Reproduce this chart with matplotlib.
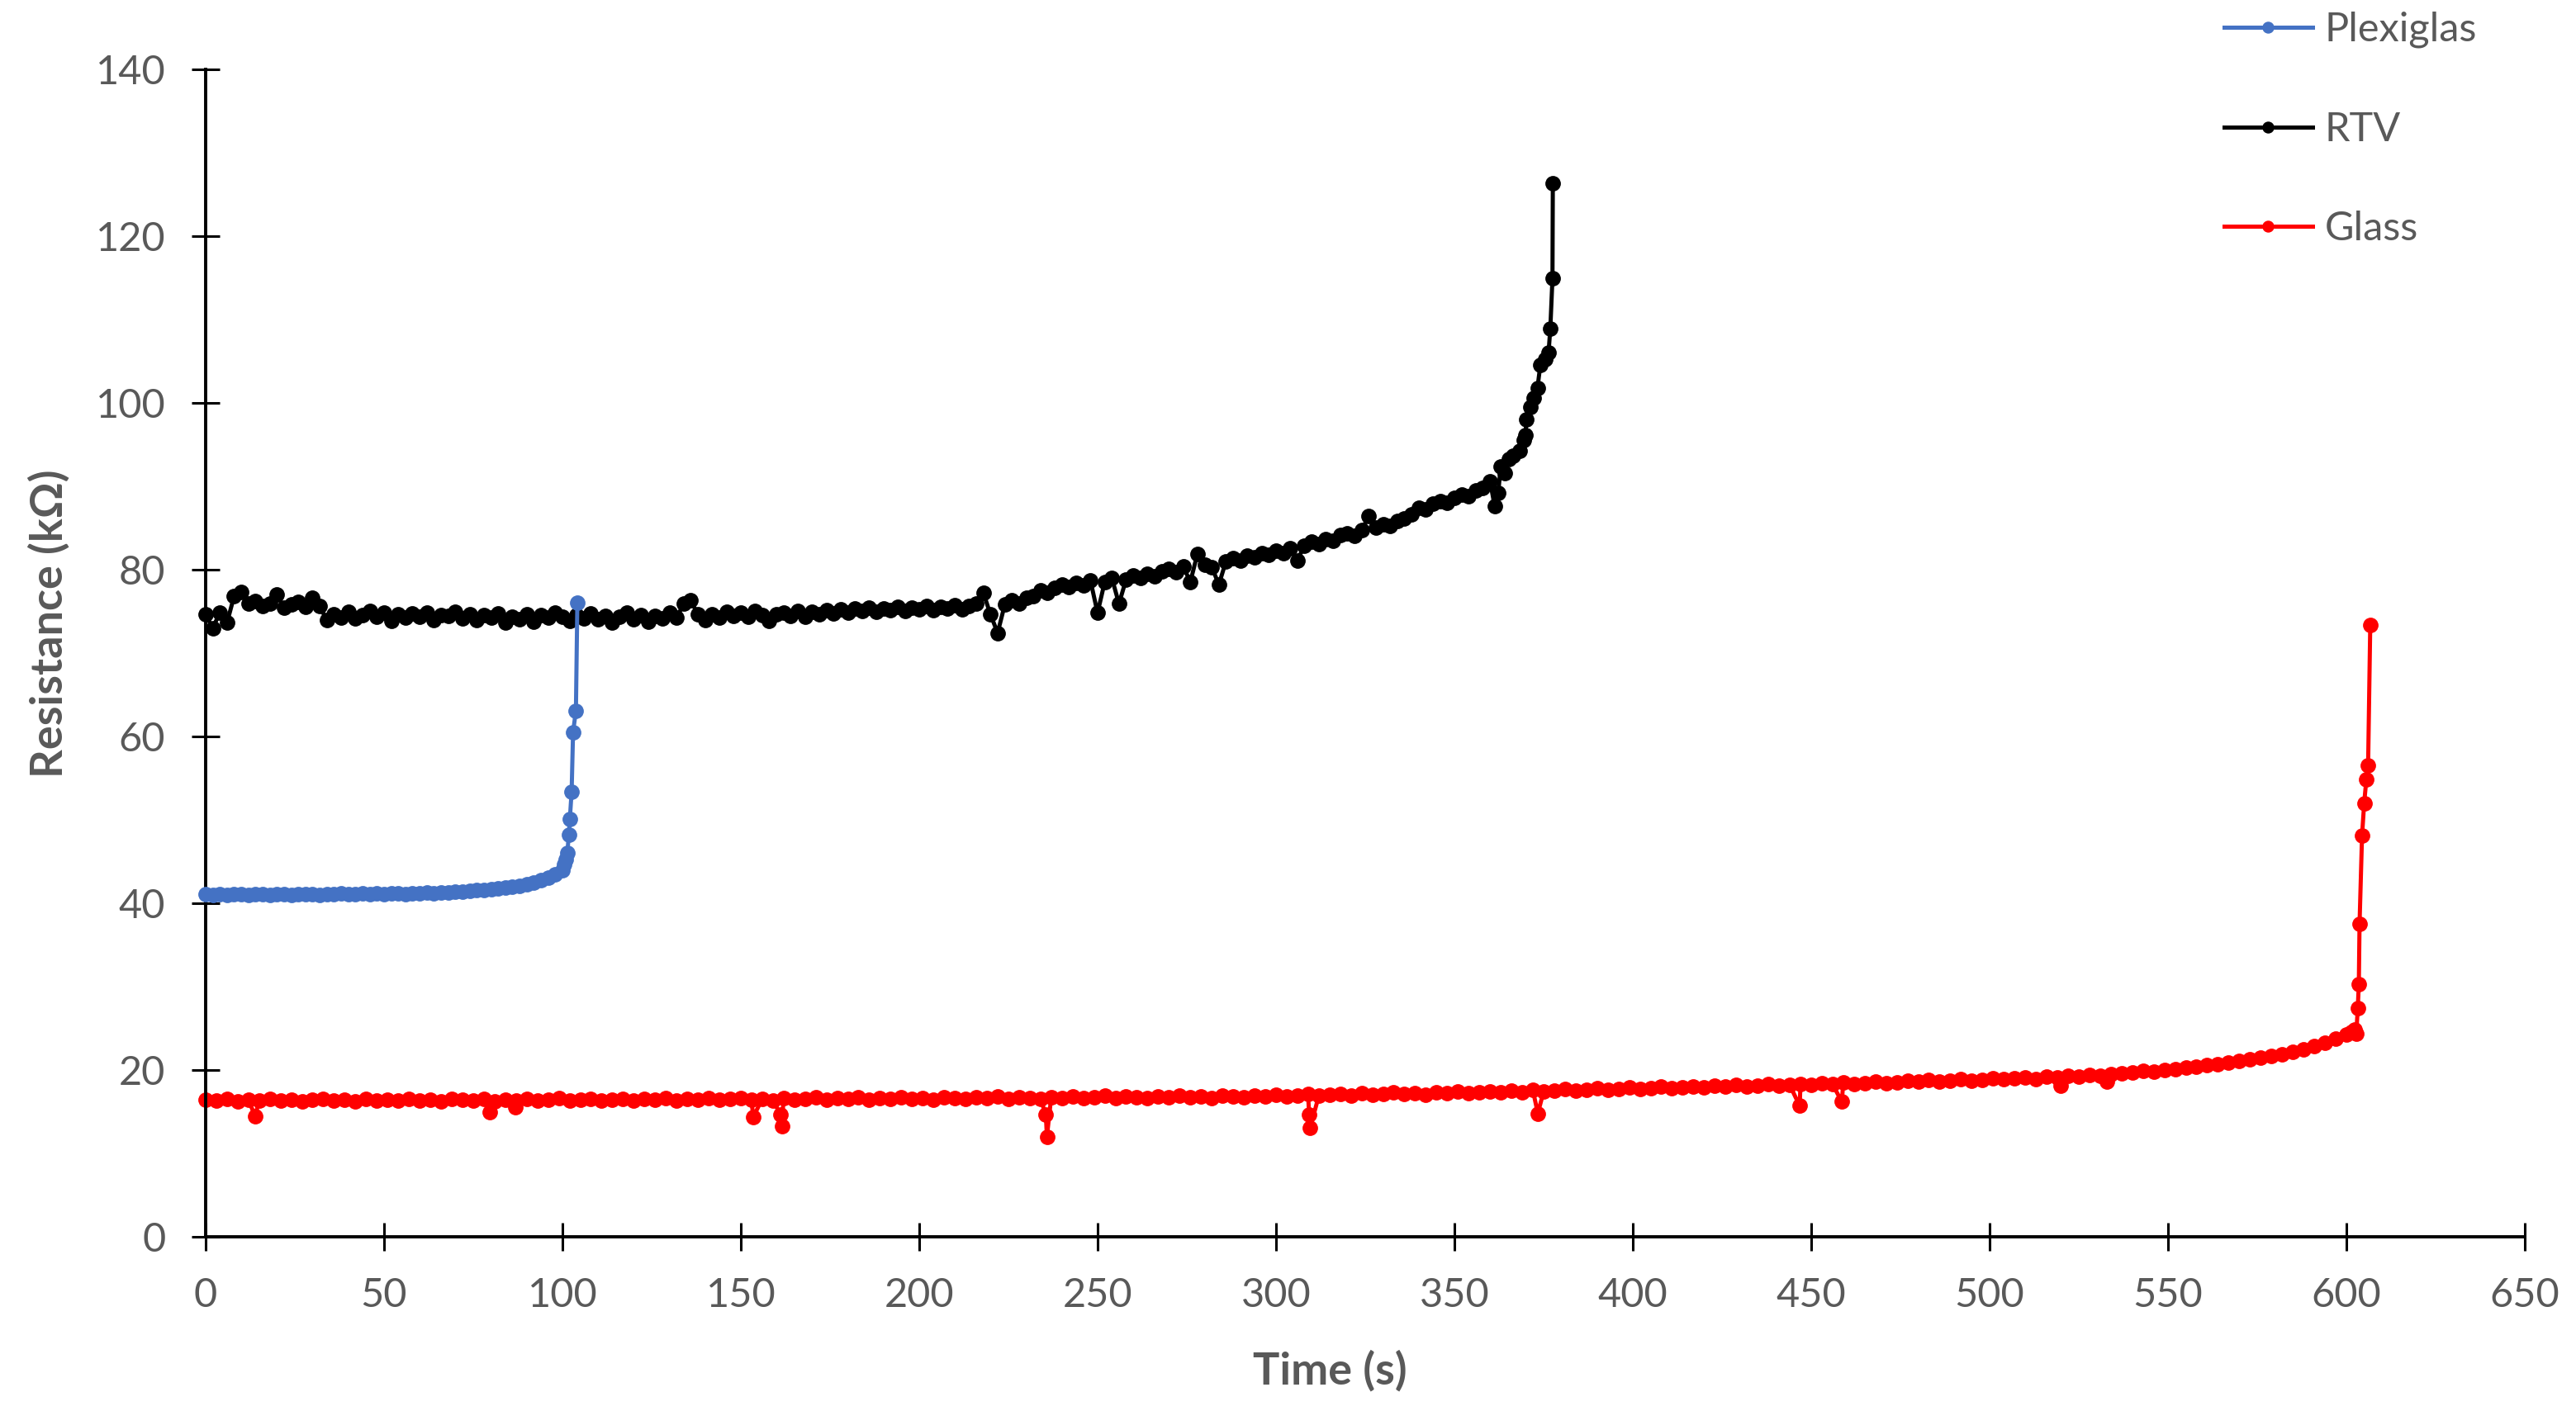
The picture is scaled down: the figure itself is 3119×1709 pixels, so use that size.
import matplotlib
matplotlib.use("Agg")
import matplotlib.pyplot as plt
import numpy as np

plt.rcParams['font.family'] = ['Lato', 'DejaVu Sans']

GREY = '#595959'

# Plexiglas, sampled every 2 s, then the fast rise at the end
plexi_t = np.arange(0, 102, 2)
plexi_r = [41.1, 41.0, 41.1, 41.0, 41.1, 41.1, 41.0, 41.1, 41.1, 41.0,
           41.1, 41.1, 41.0, 41.1, 41.1, 41.1, 41.0, 41.1, 41.1, 41.2,
           41.1, 41.1, 41.2, 41.1, 41.2, 41.1, 41.2, 41.2, 41.1, 41.2,
           41.2, 41.3, 41.2, 41.3, 41.3, 41.4, 41.4, 41.5, 41.6, 41.6,
           41.7, 41.8, 41.9, 42.0, 42.1, 42.3, 42.5, 42.8, 43.1, 43.5,
           44.0]
plexi_tail_t = [100.6, 101.0, 101.4, 101.8, 102.1, 102.6, 103.0, 103.8, 104.2]
plexi_tail_r = [44.6, 45.2, 46.0, 48.2, 50.1, 53.4, 60.5, 63.1, 76.0]

# RTV, sampled every 2 s
rtv_t = np.arange(0, 362, 2)
rtv_r = [74.6, 73.0, 74.8, 73.6, 76.8, 77.3, 75.9, 76.2, 75.6, 75.9,
         77.0, 75.4, 75.8, 76.1, 75.5, 76.6, 75.6, 73.9, 74.6, 74.2,
         74.9, 74.1, 74.5, 75.0, 74.3, 74.8, 73.8, 74.6, 74.2, 74.7,
         74.3, 74.8, 73.9, 74.5, 74.4, 74.9, 74.1, 74.6, 73.9, 74.5,
         74.2, 74.7, 73.6, 74.3, 74.0, 74.6, 73.7, 74.5, 74.2, 74.8,
         74.3, 73.8, 74.5, 74.1, 74.7, 74.0, 74.4, 73.6, 74.3, 74.8,
         74.0, 74.5, 73.7, 74.4, 74.1, 74.8, 74.2, 75.9, 76.3, 74.6,
         73.9, 74.6, 74.2, 74.9, 74.4, 74.8, 74.3, 75.0, 74.5, 73.8,
         74.6, 74.8, 74.4, 75.0, 74.3, 74.9, 74.6, 75.1, 74.7, 75.2,
         74.8, 75.3, 75.0, 75.4, 74.9, 75.3, 75.1, 75.5, 75.0, 75.4,
         75.2, 75.6, 75.1, 75.5, 75.3, 75.7, 75.2, 75.6, 75.9, 77.2,
         74.6, 72.4, 75.8, 76.3, 75.9, 76.6, 76.8, 77.5, 77.2, 77.8,
         78.2, 77.9, 78.4, 78.1, 78.7, 74.8, 78.5, 79.0, 75.9, 78.8,
         79.3, 79.0, 79.5, 79.2, 79.8, 80.1, 79.7, 80.4, 78.5, 81.9,
         80.6, 80.3, 78.2, 81.0, 81.4, 81.1, 81.7, 81.5, 82.0, 81.8,
         82.3, 82.0, 82.6, 81.1, 82.9, 83.3, 83.0, 83.6, 83.4, 84.1,
         84.3, 84.0, 84.7, 86.4, 85.0, 85.4, 85.2, 85.8, 86.1, 86.6,
         87.4, 87.2, 87.9, 88.2, 88.0, 88.6, 89.0, 88.8, 89.5, 89.8,
         90.6]
rtv_tail_t = [361.3, 362.3, 363.0, 364.2, 365.3, 366.5, 368.3, 369.4, 369.9, 370.2,
              371.3, 372.3, 373.3, 374.1, 375.5, 376.4, 376.9, 377.5, 377.6]
rtv_tail_r = [87.6, 89.2, 92.4, 91.6, 93.2, 93.6, 94.2, 95.5, 96.1, 98.0,
              99.5, 100.6, 101.8, 104.5, 105.2, 106.0, 108.9, 114.9, 126.3]

# Glass, sampled every 3 s, plus the short drop-outs and the final rise
glass_t = np.arange(0, 603, 3)
glass_r = [16.4, 16.3, 16.5, 16.2, 16.4, 16.3, 16.5, 16.3, 16.4, 16.2,
           16.4, 16.5, 16.3, 16.4, 16.2, 16.5, 16.3, 16.4, 16.3, 16.5,
           16.3, 16.4, 16.2, 16.5, 16.4, 16.3, 16.5, 16.2, 16.4, 16.3,
           16.5, 16.3, 16.4, 16.6, 16.3, 16.4, 16.5, 16.3, 16.4, 16.5,
           16.3, 16.5, 16.4, 16.6, 16.3, 16.5, 16.4, 16.6, 16.4, 16.5,
           16.6, 16.4, 16.5, 16.3, 16.6, 16.4, 16.5, 16.7, 16.4, 16.6,
           16.5, 16.7, 16.4, 16.6, 16.5, 16.7, 16.5, 16.6, 16.4, 16.7,
           16.6, 16.5, 16.7, 16.6, 16.8, 16.5, 16.7, 16.6, 16.5, 16.7,
           16.6, 16.8, 16.6, 16.7, 16.9, 16.6, 16.8, 16.7, 16.6, 16.8,
           16.7, 16.9, 16.7, 16.8, 16.6, 16.9, 16.8, 16.7, 16.9, 16.8,
           17.0, 16.8, 16.9, 17.1, 16.9, 17.0, 17.1, 16.9, 17.2, 17.0,
           17.1, 17.3, 17.1, 17.2, 17.0, 17.3, 17.2, 17.4, 17.2, 17.3,
           17.4, 17.3, 17.5, 17.3, 17.6, 17.4, 17.5, 17.7, 17.5, 17.6,
           17.8, 17.6, 17.7, 17.9, 17.7, 17.8, 18.0, 17.8, 17.9, 18.0,
           17.9, 18.1, 18.0, 18.2, 18.0, 18.1, 18.3, 18.1, 18.2, 18.3,
           18.2, 18.4, 18.3, 18.5, 18.3, 18.4, 18.6, 18.4, 18.5, 18.7,
           18.6, 18.8, 18.6, 18.7, 18.9, 18.7, 18.8, 19.0, 18.9, 19.0,
           19.1, 18.9, 19.2, 19.1, 19.3, 19.2, 19.4, 19.3, 19.5, 19.6,
           19.7, 19.9, 19.8, 20.0, 20.1, 20.3, 20.4, 20.6, 20.7, 20.9,
           21.1, 21.3, 21.5, 21.7, 21.9, 22.2, 22.5, 22.9, 23.3, 23.8,
           24.3]
glass_dip_t = [13.9, 79.6, 86.8, 153.5, 161.2, 161.5, 235.5, 235.8, 309.3, 309.6,
               373.4, 446.8, 458.6, 519.9, 533.0]
glass_dip_r = [14.5, 15.0, 15.5, 14.4, 14.7, 13.3, 14.7, 12.0, 14.7, 13.1,
               14.8, 15.7, 16.2, 18.1, 18.6]
glass_tail_t = [601.5, 602.3, 602.8, 603.2, 603.5, 603.7, 604.4, 605.0, 605.6, 606.1, 606.7]
glass_tail_r = [24.6, 24.9, 24.4, 27.4, 30.3, 37.5, 48.1, 52.0, 54.8, 56.5, 73.3]

x_ticks = [0, 50, 100, 150, 200, 250, 300, 350, 400, 450, 500, 550, 600, 650]
y_ticks = [0, 20, 40, 60, 80, 100, 120, 140]


def join(*parts):
    t = np.concatenate([np.asarray(p[0], dtype=float) for p in parts])
    r = np.concatenate([np.asarray(p[1], dtype=float) for p in parts])
    order = np.argsort(t, kind='stable')
    return t[order], r[order]


pt, pr = join((plexi_t, plexi_r), (plexi_tail_t, plexi_tail_r))
rt, rr = join((rtv_t, rtv_r), (rtv_tail_t, rtv_tail_r))
gt, gr = join((glass_t, glass_r), (glass_dip_t, glass_dip_r), (glass_tail_t, glass_tail_r))

fig = plt.figure(figsize=(31.19, 17.09), dpi=100)
ax = fig.add_axes([0.0798, 0.1234, 0.9003, 0.8277])

style = dict(marker='o', markersize=12.5, linewidth=3.6, clip_on=False)
l_p, = ax.plot(pt, pr, color='#4472C4', mec='#4472C4', label='Plexiglas', zorder=4, **style)
l_r, = ax.plot(rt, rr, color='black', mec='black', label='RTV', zorder=3, **style)
l_g, = ax.plot(gt, gr, color='#FF0000', mec='#FF0000', label='Glass', zorder=2, **style)

ax.set_xlim(0, 650)
ax.set_ylim(0, 140)
ax.set_xticks(x_ticks)
ax.set_yticks(y_ticks)

for s in ['top', 'right']:
    ax.spines[s].set_visible(False)
for s in ['left', 'bottom']:
    ax.spines[s].set_linewidth(2.8)
    ax.spines[s].set_color('black')

ax.tick_params(axis='both', direction='inout', length=24, width=2.2,
               labelsize=35, labelcolor=GREY, pad=23)

ax.set_xlabel('Time (s)', fontsize=39, fontweight='bold', color=GREY)
ax.set_ylabel('Resistance (kΩ)', fontsize=39, fontweight='bold', color=GREY)
ax.xaxis.set_label_coords(0.4847, -0.097)
ax.yaxis.set_label_coords(-0.0584, 0.525)

fig.legend(handles=[l_p, l_r, l_g], loc='upper left',
           bbox_to_anchor=(2693 / 3119, 1 - 14 / 1709), frameon=False,
           borderpad=0, borderaxespad=0, handlelength=2.2, handletextpad=0.3,
           labelspacing=1.57, fontsize=35, labelcolor=GREY, numpoints=1,
           markerscale=0.75)

fig.savefig('out.png', dpi=100, facecolor='white')
